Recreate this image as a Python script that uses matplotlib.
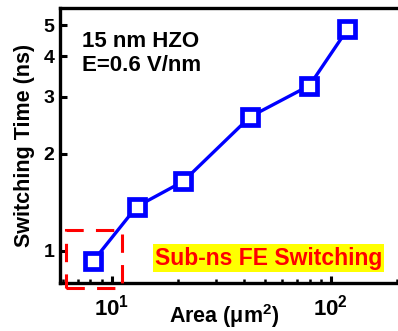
import numpy as np
import matplotlib
matplotlib.use("Agg")
import matplotlib.pyplot as plt
from matplotlib.patches import Rectangle
from matplotlib.ticker import LogLocator, NullFormatter, FixedLocator, FixedFormatter

plt.rcParams['font.family'] = ['Liberation Sans', 'DejaVu Sans']
plt.rcParams['font.weight'] = 'bold'
plt.rcParams['mathtext.fontset'] = 'custom'
plt.rcParams['mathtext.rm'] = 'Liberation Sans:bold'
plt.rcParams['mathtext.bf'] = 'Liberation Sans:bold'
plt.rcParams['mathtext.it'] = 'Liberation Sans:bold'
plt.rcParams['mathtext.default'] = 'bf'

# switching time vs capacitor area
area = [8.24, 13.0, 21.2, 42.8, 79.9, 119.0]
t_switch = [0.93, 1.37, 1.64, 2.60, 3.25, 4.85]

y_ticks = [1, 2, 3, 4, 5]
y_ticklabels = ['1', '2', '3', '4', '5']
x_ticks = [10, 100]
x_ticklabels = ['10$^1$', '10$^2$']

fig = plt.figure(figsize=(3.98, 3.31), dpi=100)
ax = fig.add_axes([60 / 398, (331 - 283.3) / 331, (405 - 60) / 398, (283.3 - 8) / 331])

ax.plot(area, t_switch, color='#0000ff', lw=2.4, marker='s', ms=12,
        mfc='white', mec='#0000ff', mew=3.4, zorder=5)

ax.set_xscale('log')
ax.set_yscale('log')
ax.set_xlim(5.81, 218)
ax.set_ylim(0.793, 5.65)

ax.xaxis.set_major_locator(FixedLocator(x_ticks))
ax.xaxis.set_major_formatter(FixedFormatter(x_ticklabels))
ax.xaxis.set_minor_locator(LogLocator(base=10, subs=np.arange(2, 10)))
ax.xaxis.set_minor_formatter(NullFormatter())
ax.yaxis.set_major_locator(FixedLocator(y_ticks))
ax.yaxis.set_major_formatter(FixedFormatter(y_ticklabels))
ax.yaxis.set_minor_locator(FixedLocator([]))

ax.tick_params(which='major', direction='in', length=5, width=2.2, pad=4)
ax.tick_params(axis='y', which='major', labelsize=14)
ax.tick_params(axis='x', which='major', labelsize=16, pad=8)
ax.tick_params(which='minor', direction='in', length=3, width=1.8)
for lab in ax.get_xticklabels() + ax.get_yticklabels():
    lab.set_fontweight('bold')

for sp in ax.spines.values():
    sp.set_linewidth(2.4)

ax.set_xlabel('Area (\u03bcm$^2$)', fontsize=15.5, fontweight='bold')
ax.xaxis.set_label_coords((224 - 60) / 345, -(302 - 283.3) / 275.3)
ax.set_ylabel('Switching Time (ns)', fontsize=15.5, fontweight='bold', labelpad=6)

ax.text(0.065, 0.915, '15 nm HZO\nE=0.6 V/nm', transform=ax.transAxes,
        fontsize=16, fontweight='bold', va='top', ha='left', linespacing=1.15)

ax.text((155 - 60) / 345, (283.3 - 258) / 275.3, 'Sub-ns FE Switching', transform=ax.transAxes,
        fontsize=16.5, fontweight='bold', color='#ff0000', va='center', ha='left',
        bbox=dict(facecolor='#ffff00', edgecolor='none', pad=1.5))

box = Rectangle((6.18, 0.767), 11.1 - 6.18, 1.16 - 0.767, fill=False,
                edgecolor='#ff0000', lw=2.2, linestyle=(0, (6, 4)), clip_on=False, zorder=4)
ax.add_patch(box)

fig.savefig('out.png', dpi=100)
